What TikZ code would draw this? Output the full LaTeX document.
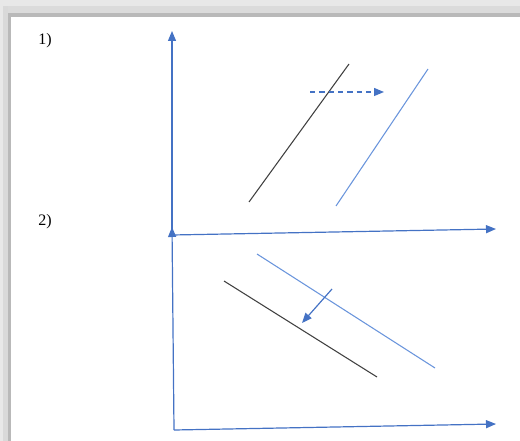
\documentclass[tikz,border=0pt]{standalone}
\usepackage{fontspec}
\setmainfont{Liberation Serif}
\usetikzlibrary{arrows.meta}
\definecolor{axisblue}{HTML}{4472C4}
\definecolor{lineblue}{HTML}{6A95DC}
\definecolor{darkline}{HTML}{404040}
\tikzset{
  axis/.style={draw=axisblue,line width=0.9pt,->},
  curve/.style={line width=0.8pt},
  shift arrow/.style={draw=axisblue,line width=0.9pt,->},
  tag/.style={font=\fontsize{12}{14}\selectfont}
}
\begin{document}
\begin{tikzpicture}[x=0.75pt,y=-0.75pt,>={Triangle[length=7.5pt,width=6pt]}]
  \useasboundingbox (0,0) rectangle (520,441);
  % frame shadow
  \fill[gray!18] (0,0) rectangle (520,17);
  \fill[gray!18] (0,0) rectangle (11,441);
  \fill[gray!28] (5,6) rectangle (520,13);
  \fill[gray!30] (3,6) rectangle (8,441);
  \fill[gray!55] (10,13) rectangle (520,17);
  \fill[gray!55] (8,13) rectangle (11,441);

  \node[tag] (n1) at (45,41) {1)};
  \node[tag] (n2) at (45,222) {2)};

  % panel 1
  \coordinate (o1) at (172,235);
  \coordinate (y1) at (172,31);
  \coordinate (x1) at (496,229);
  \draw[axis] (o1) -- (y1);
  \draw[axis] (o1) -- (x1);
  \coordinate (a1) at (249,202);
  \coordinate (a2) at (349,64);
  \coordinate (b1) at (336,206);
  \coordinate (b2) at (428,69);
  \draw[curve,darkline] (a1) -- (a2);
  \draw[curve,lineblue] (b1) -- (b2);
  \coordinate (s1) at (310,92);
  \coordinate (s2) at (384,92);
  \draw[shift arrow,dashed,dash pattern=on 4pt off 3pt] (s1) -- (s2);

  % panel 2
  \coordinate (o2) at (174,430);
  \coordinate (y2) at (172,227);
  \coordinate (x2) at (496,424);
  \draw[axis] (o2) -- (y2);
  \draw[axis] (o2) -- (x2);
  \coordinate (c1) at (257,254);
  \coordinate (c2) at (435,368);
  \coordinate (d1) at (224,281);
  \coordinate (d2) at (377,377);
  \draw[curve,lineblue] (c1) -- (c2);
  \draw[curve,darkline] (d1) -- (d2);
  \coordinate (t1) at (332,289);
  \coordinate (t2) at (302,323);
  \draw[shift arrow] (t1) -- (t2);
\end{tikzpicture}
\end{document}
